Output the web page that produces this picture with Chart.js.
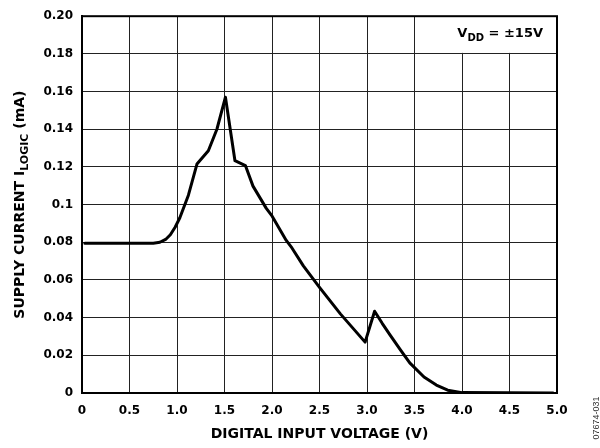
<!DOCTYPE html>
<html>
<head>
<meta charset="utf-8">
<script src="https://cdn.jsdelivr.net/npm/chart.js@4/dist/chart.umd.min.js"></script>
<style>
  html, body { margin: 0; padding: 0; background: #fff; }
  #wrap { width: 600px; height: 448px; }
</style>
</head>
<body>
<div id="wrap"><canvas id="logic" width="600" height="448"></canvas></div>
<script>
// I_LOGIC vs digital input voltage

const voltage = [0.03, 0.5, 0.75, 0.82, 0.88, 0.93, 0.98, 1.03, 1.12, 1.21, 1.33, 1.42, 1.51, 1.61, 1.72, 1.80, 1.94, 2.0, 2.15, 2.21, 2.33, 2.5, 2.72, 2.98, 3.08, 3.16, 3.24, 3.35, 3.45, 3.6, 3.73, 3.85, 4.0, 4.96];
const current = [0.0795, 0.0795, 0.0795, 0.0800, 0.0815, 0.0840, 0.0880, 0.0930, 0.1050, 0.1215, 0.1286, 0.1400, 0.1570, 0.1233, 0.1207, 0.1098, 0.0980, 0.0940, 0.0810, 0.0770, 0.0675, 0.0561, 0.0420, 0.0270, 0.0434, 0.0370, 0.0310, 0.0230, 0.0160, 0.0085, 0.0042, 0.0015, 0.0002, 0.0];

const xTickLabels = ['0', '0.5', '1.0', '1.5', '2.0', '2.5', '3.0', '3.5', '4.0', '4.5', '5.0'];
const yTickLabels = ['0', '0.02', '0.04', '0.06', '0.08', '0.1', '0.12', '0.14', '0.16', '0.18', '0.20'];

const FONT = '"DejaVu Sans", sans-serif';

const points = voltage.map((v, i) => ({ x: v, y: current[i] }));

const decor = {
	id: 'decor',
	afterDraw(chart) {
		const c = chart.ctx;
		const a = chart.chartArea;
		const xs = chart.scales.x;
		const ys = chart.scales.y;
		c.save();

		// legend cell, top right
		const bx = xs.getPixelForValue(3.5) + 1;
		const by = ys.getPixelForValue(0.18) - 1;
		c.fillStyle = '#fff';
		c.fillRect(bx, a.top, a.right - bx, by - a.top);
		c.fillStyle = '#000';
		c.textBaseline = 'alphabetic';
		c.textAlign = 'left';
		const rest = ' = ±15V';
		c.font = 'bold 10px ' + FONT;
		const wSub = c.measureText('DD').width;
		c.font = 'bold 13px ' + FONT;
		const wV = c.measureText('V').width;
		const wRest = c.measureText(rest).width;
		let tx = 543 - (wV + wSub + wRest);
		c.fillText('V', tx, 37);
		c.font = 'bold 10px ' + FONT;
		c.fillText('DD', tx + wV, 41);
		c.font = 'bold 13px ' + FONT;
		c.fillText(rest, tx + wV + wSub, 37);

		// frame
		c.strokeStyle = '#000';
		c.lineWidth = 2;
		c.strokeRect(a.left, a.top, a.right - a.left, a.bottom - a.top);

		// x title
		c.textAlign = 'center';
		c.font = 'bold 14px ' + FONT;
		c.fillText('DIGITAL INPUT VOLTAGE (V)', (a.left + a.right) / 2, 438);

		// y title with subscript
		c.translate(24, (a.top + a.bottom) / 2);
		c.rotate(-Math.PI / 2);
		const p1 = 'SUPPLY CURRENT I';
		const p2 = 'LOGIC';
		const p3 = ' (mA)';
		c.font = 'bold 14px ' + FONT;
		const w1 = c.measureText(p1).width;
		const w3 = c.measureText(p3).width;
		c.font = 'bold 11px ' + FONT;
		const w2 = c.measureText(p2).width;
		let sx = -(w1 + w2 + w3) / 2;
		c.textAlign = 'left';
		c.font = 'bold 14px ' + FONT;
		c.fillText(p1, sx, 0);
		c.font = 'bold 11px ' + FONT;
		c.fillText(p2, sx + w1, 4);
		c.font = 'bold 14px ' + FONT;
		c.fillText(p3, sx + w1 + w2, 0);
		c.restore();

		// figure id
		c.save();
		c.translate(597, 418);
		c.rotate(-Math.PI / 2);
		c.textAlign = 'center';
		c.textBaseline = 'middle';
		c.fillStyle = '#333';
		c.font = '9px "Liberation Sans", sans-serif';
		c.fillText('07674-031', 0, 0);
		c.restore();
	}
};

const ctx = document.querySelector('#logic').getContext('2d');

const logicChart = new Chart(ctx, {
	type: 'scatter',
	data: {
		datasets: [{
			label: 'I LOGIC',
			data: points,
			showLine: true,
			borderColor: '#000',
			borderWidth: 3,
			pointRadius: 0,
			tension: 0,
			borderJoinStyle: 'round',
			borderCapStyle: 'round'
		}]
	},
	options: {
		responsive: false,
		animation: false,
		layout: { padding: { top: 14, right: 43, left: 0, bottom: 0 } },
		plugins: {
			legend: { display: false },
			tooltip: { enabled: false }
		},
		scales: {
			x: {
				type: 'linear',
				min: 0,
				max: 5,
				afterFit(scale) { scale.height = 55; },
				ticks: {
					stepSize: 0.5,
					padding: 11,
					color: '#000',
					font: { family: FONT, size: 12, weight: 'bold' },
					callback: (v, i) => xTickLabels[i]
				},
				grid: { color: '#222', lineWidth: 1, drawTicks: false },
				border: { color: '#000', width: 2 }
			},
			y: {
				min: 0,
				max: 0.2,
				afterFit(scale) { scale.width = 82; },
				ticks: {
					stepSize: 0.02,
					padding: 9,
					color: '#000',
					font: { family: FONT, size: 12, weight: 'bold' },
					callback: (v, i) => yTickLabels[i]
				},
				grid: { color: '#222', lineWidth: 1, drawTicks: false },
				border: { color: '#000', width: 2 }
			}
		}
	},
	plugins: [decor]
});
</script>
</body>
</html>
